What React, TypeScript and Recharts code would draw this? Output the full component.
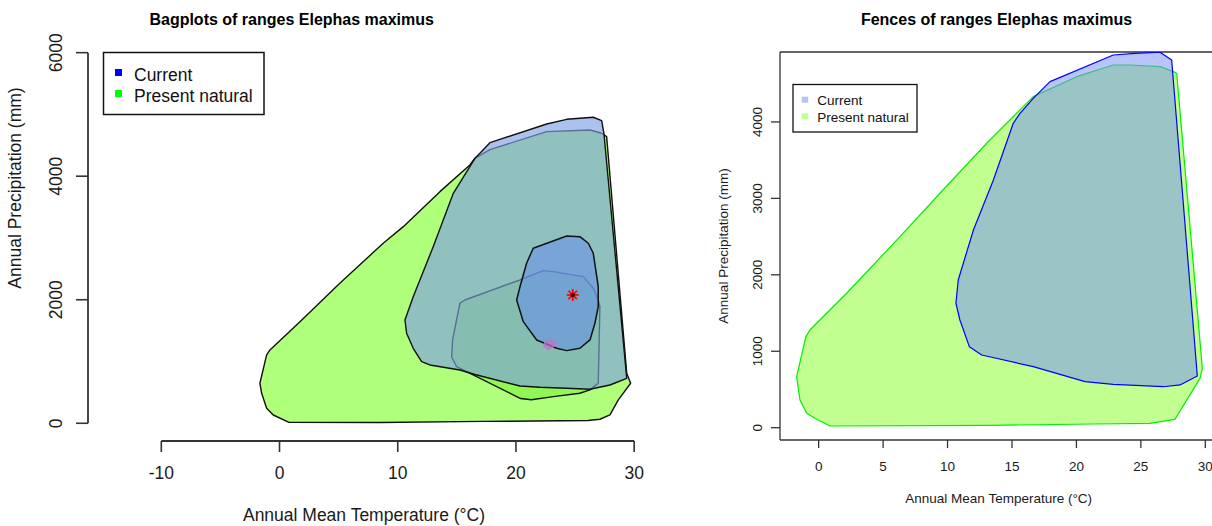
import React from 'react';
import { ScatterChart, Scatter, XAxis, YAxis, ReferenceLine } from 'recharts';

const FONT = '"Liberation Sans", Arial, Helvetica, sans-serif';

// ---------- Left panel: bagplots ----------
const leftXTicks = [-10, 0, 10, 20, 30];
const leftYTicks = [0, 2000, 4000, 6000];
const leftXDomain = [-16.2, 31.0];
const leftYDomain = [-287, 6205];

const naturalLoopX = [16.1, 16.53, 17.8, 22.6, 26.26, 27.25, 27.67, 29.37, 29.7, 28.66, 27.95, 27.1, 26.09, 17.2, 8.49, 0.8, -0.53, -1.09, -1.51, -1.66, -1.09, -0.81, 1.73, 5.1, 8.77, 10.47, 13.57];
const naturalLoopY = [4182, 4290, 4431, 4721, 4748, 4695, 4640, 809, 648, 378, 135, 65, 45, 30, 12, 15, 134, 243, 486, 648, 1106, 1187, 1645, 2267, 2914, 3183, 3750];

const naturalBagX = [15.26, 15.68, 20.34, 22.31, 23.16, 25.69, 26.54, 26.96, 27.1, 26.96, 26.26, 25.4, 23.16, 21.3, 20.4, 14.98, 14.56, 14.64];
const naturalBagY = [1943, 1996, 2320, 2471, 2455, 2374, 2186, 1996, 1888, 648, 540, 486, 431, 380, 400, 916, 1078, 1349];

const naturalCenterX = [22.3, 22.55, 23.1, 23.6, 22.75];
const naturalCenterY = [1250, 1360, 1350, 1285, 1190];

const currentLoopX = [16.1, 16.53, 16.95, 17.8, 22.6, 24.29, 26.54, 27.25, 27.44, 29.37, 27.95, 26.26, 24.29, 22.03, 20.34, 16.53, 15.26, 12.72, 12.02, 11.31, 10.75, 10.61, 11.31, 13.0, 14.7];
const currentLoopY = [4154, 4290, 4371, 4543, 4845, 4921, 4954, 4899, 4695, 728, 620, 550, 567, 583, 604, 790, 863, 944, 997, 1214, 1457, 1672, 2049, 2859, 3723];

const currentBagX = [21.46, 24.29, 25.41, 26.12, 26.54, 26.96, 26.96, 26.68, 26.26, 25.41, 24.29, 23.44, 21.75, 20.62, 20.06, 20.34, 20.9];
const currentBagY = [2833, 3032, 3021, 2914, 2752, 2211, 1888, 1619, 1349, 1214, 1176, 1214, 1349, 1645, 1996, 2211, 2590];

const currentCenterX = [24.8];
const currentCenterY = [2077];

// ---------- Right panel: fences ----------
const rightXTicks = [0, 5, 10, 15, 20, 25, 30];
const rightYTicks = [0, 1000, 2000, 3000, 4000];
const rightXDomain = [-3.0, 30.83];
const rightYDomain = [-161, 4915];

const naturalFenceX = [-0.99, -1.71, -1.45, -0.93, -0.29, 0.88, 13.29, 21.31, 25.7, 27.65, 29.59, 29.77, 27.78, 27.52, 26.49, 24.16, 22.86, 20.02, 16.65, 15.62, 13.04, 9.41, 6.31, 2.17, -0.68];
const naturalFenceY = [1191, 667, 362, 188, 123, 22, 31, 48, 57, 110, 646, 777, 4637, 4658, 4723, 4745, 4745, 4592, 4331, 4157, 3721, 3067, 2499, 1759, 1278];

const currentFenceX = [10.83, 10.65, 10.96, 11.69, 12.65, 16.65, 20.67, 22.86, 26.74, 28.04, 29.38, 27.39, 26.49, 24.55, 22.86, 17.95, 16.65, 15.62, 15.1, 13.55, 12.0];
const currentFenceY = [1932, 1628, 1409, 1060, 951, 798, 602, 567, 536, 559, 676, 4811, 4912, 4898, 4876, 4527, 4309, 4113, 3982, 3237, 2583];

const seriesNames = ['Current', 'Present natural'];

const zip = (xs: number[], ys: number[]) => xs.map((x, i) => ({ x, y: ys[i] }));

const EmptyShape = () => <g />;

const PolyPath = (props: any) => {
  const { points, polyFill, polyOpacity, polyStroke, polyWidth } = props;
  if (!points || !points.length) return null;
  const d = points.map((p: any, i: number) => `${i ? 'L' : 'M'}${p.x},${p.y}`).join(' ') + ' Z';
  return (
    <path d={d} fill={polyFill} fillOpacity={polyOpacity} stroke={polyStroke} strokeWidth={polyWidth} strokeLinejoin="round" />
  );
};

const StarShape = (props: any) => {
  const { cx, cy } = props;
  if (cx == null || cy == null) return <g />;
  const r = 6;
  const lines = [0, 45, 90, 135].map((a) => {
    const rad = (a * Math.PI) / 180;
    return (
      <line key={a} x1={cx - r * Math.cos(rad)} y1={cy - r * Math.sin(rad)} x2={cx + r * Math.cos(rad)} y2={cy + r * Math.sin(rad)} stroke="#ff0000" strokeWidth={1.7} />
    );
  });
  return (
    <g>
      {lines}
      <circle cx={cx} cy={cy} r={2.2} fill="#300000" />
    </g>
  );
};

const LeftXTick = (p: any) => (
  <text x={p.x} y={p.y + 25} textAnchor="middle" fontSize={17.5} fontFamily={FONT} fill="#1a1a1a">{p.payload.value}</text>
);
const LeftYTick = (p: any) => (
  <text transform={`translate(${p.x - 12},${p.y}) rotate(-90)`} textAnchor="middle" fontSize={17.5} fontFamily={FONT} fill="#1a1a1a">{p.payload.value}</text>
);
const RightXTick = (p: any) => (
  <text x={p.x} y={p.y + 20.7} textAnchor="middle" fontSize={13.5} fontFamily={FONT} fill="#1a1a1a">{p.payload.value}</text>
);
const RightYTick = (p: any) => (
  <text transform={`translate(${p.x - 7},${p.y}) rotate(-90)`} textAnchor="middle" fontSize={13.5} fontFamily={FONT} fill="#1a1a1a">{p.payload.value}</text>
);

const poly = (fill: string, opacity: number, stroke: string, width: number) => (
  <PolyPath polyFill={fill} polyOpacity={opacity} polyStroke={stroke} polyWidth={width} />
);

const LeftChart = () => (
  <ScatterChart width={660} height={526} margin={{ top: 40, right: 14, bottom: 0, left: 0 }}>
    <XAxis type="number" dataKey="x" domain={leftXDomain} allowDataOverflow ticks={leftXTicks} interval={0} height={85}
      axisLine={false} tickSize={11} tickLine={{ stroke: '#333', strokeWidth: 1.6 }} tick={LeftXTick} />
    <YAxis type="number" dataKey="y" domain={leftYDomain} allowDataOverflow ticks={leftYTicks} interval={0} width={88}
      axisLine={false} tickSize={12} tickLine={{ stroke: '#333', strokeWidth: 1.6 }} tick={LeftYTick} />
    <Scatter data={zip(naturalLoopX, naturalLoopY)} shape={EmptyShape} isAnimationActive={false} legendType="none"
      line={poly('#b0ff7a', 1, '#111', 1.4)} />
    <Scatter data={zip(naturalBagX, naturalBagY)} shape={EmptyShape} isAnimationActive={false} legendType="none"
      line={poly('#70f030', 0.5, '#111', 1.4)} />
    <Scatter data={zip(currentLoopX, currentLoopY)} shape={EmptyShape} isAnimationActive={false} legendType="none"
      line={poly('rgb(128,160,228)', 0.65, '#111', 1.4)} />
    <Scatter data={zip(currentBagX, currentBagY)} shape={EmptyShape} isAnimationActive={false} legendType="none"
      line={poly('rgb(100,140,235)', 0.55, '#111', 1.5)} />
    <Scatter data={zip(naturalCenterX, naturalCenterY)} shape={EmptyShape} isAnimationActive={false} legendType="none"
      line={poly('#c070c8', 0.7, '#b080d0', 1)} />
    <Scatter data={zip(currentCenterX, currentCenterY)} shape={StarShape} isAnimationActive={false} legendType="none" />
    <ReferenceLine segment={[{ x: -10, y: leftYDomain[0] }, { x: 30, y: leftYDomain[0] }]} stroke="#333" strokeWidth={1.8} ifOverflow="visible" />
    <ReferenceLine segment={[{ x: leftXDomain[0], y: 0 }, { x: leftXDomain[0], y: 6000 }]} stroke="#333" strokeWidth={1.8} ifOverflow="visible" />
  </ScatterChart>
);

const RightChart = () => (
  <ScatterChart width={516} height={526} margin={{ top: 52, right: 0, bottom: 0, left: 0 }}>
    <XAxis type="number" dataKey="x" domain={rightXDomain} allowDataOverflow ticks={rightXTicks} interval={0} height={86}
      axisLine={{ stroke: '#333', strokeWidth: 1.3 }} tickSize={8} tickLine={{ stroke: '#333', strokeWidth: 1.3 }} tick={RightXTick} />
    <YAxis type="number" dataKey="y" domain={rightYDomain} allowDataOverflow ticks={rightYTicks} interval={0} width={80}
      axisLine={{ stroke: '#333', strokeWidth: 1.3 }} tickSize={9} tickLine={{ stroke: '#333', strokeWidth: 1.3 }} tick={RightYTick} />
    <Scatter data={zip(naturalFenceX, naturalFenceY)} shape={EmptyShape} isAnimationActive={false} legendType="none"
      line={poly('#c0ff90', 1, '#00ee00', 1.2)} />
    <Scatter data={zip(currentFenceX, currentFenceY)} shape={EmptyShape} isAnimationActive={false} legendType="none"
      line={poly('rgb(124,146,246)', 0.54, '#0000ff', 1.2)} />
    <ReferenceLine y={rightYDomain[1]} stroke="#333" strokeWidth={1.3} ifOverflow="visible" />
  </ScatterChart>
);

const Overlay = () => (
  <svg width={1212} height={526} style={{ position: 'absolute', left: 0, top: 0, pointerEvents: 'none' }} fontFamily={FONT}>
    {/* Left titles */}
    <text x={291.7} y={25} textAnchor="middle" fontSize={16} fontWeight="bold" fill="#000">Bagplots of ranges Elephas maximus</text>
    <text x={364} y={521} textAnchor="middle" fontSize={17.5} fill="#1a1a1a">Annual Mean Temperature (°C)</text>
    <text transform="translate(20.5,188) rotate(-90)" textAnchor="middle" fontSize={17.5} fill="#1a1a1a">Annual Precipitation (mm)</text>
    {/* Left legend */}
    <rect x={103.5} y={52.5} width={160.5} height={62} fill="#fff" stroke="#111" strokeWidth={1.5} />
    <rect x={115} y={69} width={7} height={7} fill="#0000ff" />
    <rect x={115} y={90} width={7} height={7} fill="#00ff00" />
    <text x={134} y={80.7} fontSize={17.5} fill="#111">{seriesNames[0]}</text>
    <text x={134} y={102} fontSize={17.5} fill="#111">{seriesNames[1]}</text>
    {/* Right titles */}
    <text x={996.5} y={25.3} textAnchor="middle" fontSize={16} fontWeight="bold" fill="#000">Fences of ranges Elephas maximus</text>
    <text x={998.7} y={502.5} textAnchor="middle" fontSize={13.5} fill="#1a1a1a">Annual Mean Temperature (°C)</text>
    <text transform="translate(727.5,246) rotate(-90)" textAnchor="middle" fontSize={13.5} fill="#1a1a1a">Annual Precipitation (mm)</text>
    {/* Right legend */}
    <rect x={793} y={84.5} width={124} height={47.5} fill="#fff" stroke="#111" strokeWidth={1.3} />
    <rect x={801.7} y={96.7} width={6.5} height={6} fill="#b4c4f6" />
    <rect x={801.7} y={113.3} width={6.5} height={6} fill="#c0ff90" />
    <text x={817.3} y={105.3} fontSize={13.5} fill="#111">{seriesNames[0]}</text>
    <text x={817.3} y={122} fontSize={13.5} fill="#111">{seriesNames[1]}</text>
  </svg>
);

export default function App() {
  return (
    <div style={{ position: 'fixed', left: 0, top: 0, width: 1212, height: 526, overflow: 'hidden', background: '#fff' }}>
      <div style={{ position: 'absolute', left: 0, top: 0 }}>
        <LeftChart />
      </div>
      <div style={{ position: 'absolute', left: 700, top: 0 }}>
        <RightChart />
      </div>
      <Overlay />
    </div>
  );
}
